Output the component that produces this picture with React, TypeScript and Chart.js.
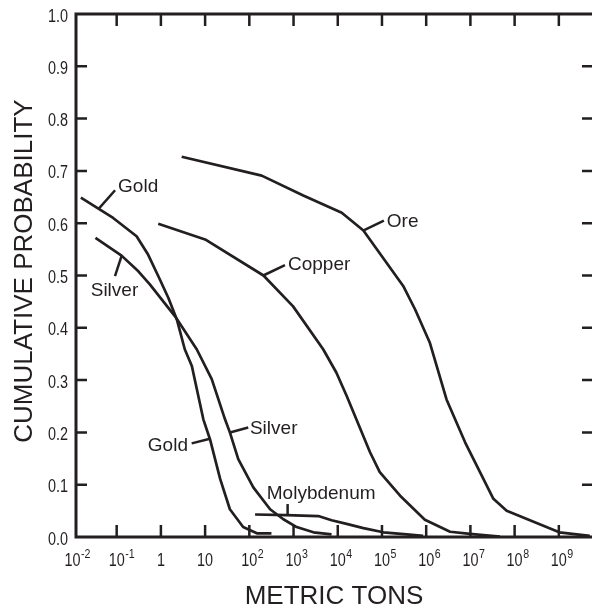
import React, { useEffect, useRef } from "react";
import { Chart, registerables } from "chart.js";

Chart.register(...registerables);

// ---- data (log10 of metric tons, cumulative probability) ----
const oreLogTons = [0.47, 2.28, 3.22, 4.09, 4.58, 5.48, 5.75, 6.08, 6.46, 6.88, 7.52, 7.82, 9.01, 9.7];
const oreProb = [0.727, 0.691, 0.653, 0.62, 0.586, 0.48, 0.435, 0.372, 0.263, 0.181, 0.073, 0.05, 0.009, 0.002];

const copperLogTons = [-0.06, 1.0, 2.32, 2.99, 3.67, 3.97, 4.2, 4.73, 4.95, 5.41, 5.97, 6.54, 6.99, 7.67];
const copperProb = [0.599, 0.569, 0.5, 0.441, 0.359, 0.314, 0.27, 0.162, 0.124, 0.079, 0.033, 0.01, 0.006, 0.001];

const goldLogTons = [-1.81, -1.08, -0.55, -0.29, -0.06, 0.17, 0.36, 0.54, 0.7, 0.96, 1.11, 1.34, 1.56, 1.86, 2.17, 2.5];
const goldProb = [0.649, 0.61, 0.575, 0.54, 0.499, 0.457, 0.416, 0.359, 0.327, 0.225, 0.187, 0.111, 0.053, 0.019, 0.007, 0.007];

const silverLogTons = [-1.48, -0.89, -0.51, -0.25, 0.32, 0.81, 1.15, 1.45, 1.56, 1.75, 2.09, 2.47, 2.77, 3.07, 3.45, 3.86];
const silverProb = [0.572, 0.538, 0.508, 0.483, 0.422, 0.359, 0.302, 0.225, 0.2, 0.149, 0.095, 0.053, 0.034, 0.019, 0.009, 0.005];

const molyLogTons = [2.13, 2.84, 3.56, 3.86, 4.2, 4.58, 5.03, 5.56, 5.93];
const molyProb = [0.043, 0.042, 0.04, 0.032, 0.025, 0.017, 0.009, 0.005, 0.002];

const X_TICK_EXPONENTS = [-2, -1, 0, 1, 2, 3, 4, 5, 6, 7, 8, 9];
const Y_TICKS = [0, 0.1, 0.2, 0.3, 0.4, 0.5, 0.6, 0.7, 0.8, 0.9, 1.0];
const X_MIN_EXP = -1.92;
const X_MAX_EXP = 9.75;

const X_TITLE = "METRIC TONS";
const Y_TITLE = "CUMULATIVE PROBABILITY";

// curve labels: leader from (l1,p1) to (l2,p2), text anchored at (lt,pt)
const LABELS = [
  { text: "Gold", l1: -1.414, p1: 0.627, l2: -1.036, p2: 0.663, lt: -0.968, pt: 0.672, align: "left" },
  { text: "Silver", l1: -0.887, p1: 0.538, l2: -1.038, p2: 0.4987, lt: -1.05, pt: 0.4733, align: "center" },
  { text: "Ore", l1: 4.575, p1: 0.586, l2: 5.043, p2: 0.605, lt: 5.11, pt: 0.605, align: "left" },
  { text: "Copper", l1: 2.315, p1: 0.5, l2: 2.806, p2: 0.5197, lt: 2.874, pt: 0.523, align: "left" },
  { text: "Gold", l1: 1.109, p1: 0.188, l2: 0.696, p2: 0.179, lt: 0.612, pt: 0.1756, align: "right" },
  { text: "Silver", l1: 1.562, p1: 0.1998, l2: 1.975, p2: 0.2094, lt: 2.014, pt: 0.208, align: "left" },
  { text: "Molybdenum", l1: 2.866, p1: 0.0429, l2: 2.866, p2: 0.063, lt: 2.395, pt: 0.0853, align: "left" },
];

const INK = "#231f20";
const FONT = '"Liberation Sans", Arial, Helvetica, sans-serif';

const toPoints = (logs: number[], probs: number[]) =>
  logs.map((l, i) => ({ x: Math.pow(10, l), y: probs[i] }));

const framePlugin = {
  id: "usgsFrame",
  afterDraw(chart: any) {
    const { ctx, chartArea, scales } = chart;
    const { left, right, top, bottom } = chartArea;
    const xs = scales.x;
    const ys = scales.y;
    ctx.save();
    ctx.strokeStyle = INK;
    ctx.fillStyle = INK;

    // frame
    ctx.lineWidth = 3;
    ctx.lineCap = "butt";
    ctx.beginPath();
    ctx.moveTo(left, top);
    ctx.lineTo(right + 2, top);
    ctx.moveTo(left, top - 1.5);
    ctx.lineTo(left, bottom + 1.5);
    ctx.moveTo(left, bottom);
    ctx.lineTo(right + 2, bottom);
    ctx.stroke();

    // ticks
    ctx.lineWidth = 2.5;
    ctx.beginPath();
    Y_TICKS.forEach((v) => {
      if (v <= 0 || v >= 1) return;
      const py = ys.getPixelForValue(v);
      ctx.moveTo(left, py);
      ctx.lineTo(left + 11, py);
      ctx.moveTo(right, py);
      ctx.lineTo(right - 10, py);
    });
    X_TICK_EXPONENTS.forEach((e) => {
      const px = xs.getPixelForValue(Math.pow(10, e));
      if (px <= left + 2) return;
      ctx.moveTo(px, bottom);
      ctx.lineTo(px, bottom - 12);
      ctx.moveTo(px, top);
      ctx.lineTo(px, top + 12);
    });
    ctx.stroke();

    const narrow = (text: string, px: number, py: number, size: number, align: string, sx: number) => {
      ctx.save();
      ctx.translate(px, py);
      ctx.scale(sx, 1);
      ctx.font = `${size}px ${FONT}`;
      ctx.textAlign = align;
      ctx.textBaseline = "alphabetic";
      ctx.fillText(text, 0, 0);
      const w = ctx.measureText(text).width * sx;
      ctx.restore();
      return w;
    };

    // y tick labels
    Y_TICKS.forEach((v) => {
      const py = ys.getPixelForValue(v);
      narrow(v.toFixed(1), left - 8, py + 7.5, 18, "right", 0.8);
    });

    // x tick labels with superscript exponents
    X_TICK_EXPONENTS.forEach((e) => {
      const px = xs.getPixelForValue(Math.pow(10, e));
      const base = e === 0 ? "1" : "10";
      ctx.save();
      ctx.font = `18.5px ${FONT}`;
      const w = ctx.measureText(base).width * 0.78;
      ctx.restore();
      narrow(base, px, bottom + 29, 18.5, "center", 0.78);
      if (e !== 0 && e !== 1) {
        narrow(String(e), px + w / 2 + 0.5, bottom + 20.5, 12.5, "left", 0.85);
      }
    });

    // axis titles
    ctx.font = `26px ${FONT}`;
    ctx.textAlign = "center";
    ctx.textBaseline = "alphabetic";
    ctx.fillText(X_TITLE, (left + right) / 2, 604);
    ctx.save();
    ctx.translate(31.5, 271);
    ctx.rotate(-Math.PI / 2);
    ctx.fillText(Y_TITLE, 0, 0);
    ctx.restore();

    // curve labels + leaders
    ctx.lineWidth = 2.5;
    ctx.lineCap = "butt";
    ctx.font = `19px ${FONT}`;
    ctx.textBaseline = "middle";
    LABELS.forEach((lb) => {
      const x1 = xs.getPixelForValue(Math.pow(10, lb.l1));
      const y1 = ys.getPixelForValue(lb.p1);
      const x2 = xs.getPixelForValue(Math.pow(10, lb.l2));
      const y2 = ys.getPixelForValue(lb.p2);
      ctx.beginPath();
      ctx.moveTo(x1, y1);
      ctx.lineTo(x2, y2);
      ctx.stroke();
      ctx.textAlign = lb.align;
      ctx.fillText(lb.text, xs.getPixelForValue(Math.pow(10, lb.lt)), ys.getPixelForValue(lb.pt) + 1);
    });
    ctx.restore();
  },
};

export default function App() {
  const ref = useRef<HTMLCanvasElement | null>(null);
  useEffect(() => {
    if (!ref.current) return;
    const mk = (label: string, logs: number[], probs: number[]) => ({
      label,
      data: toPoints(logs, probs),
      borderColor: INK,
      borderWidth: 2.7,
      pointRadius: 0,
      tension: 0,
      fill: false,
      borderCapStyle: "butt",
      borderJoinStyle: "round",
    });
    const chart = new Chart(ref.current, {
      type: "line",
      data: {
        datasets: [
          mk("Ore", oreLogTons, oreProb),
          mk("Copper", copperLogTons, copperProb),
          mk("Gold", goldLogTons, goldProb),
          mk("Silver", silverLogTons, silverProb),
          mk("Molybdenum", molyLogTons, molyProb),
        ] as any,
      },
      options: {
        responsive: false,
        animation: false,
        devicePixelRatio: 1,
        layout: { padding: { left: 76, top: 14, right: 0, bottom: 72 } },
        plugins: { legend: { display: false }, tooltip: { enabled: false } },
        scales: {
          x: { type: "logarithmic", min: Math.pow(10, X_MIN_EXP), max: Math.pow(10, X_MAX_EXP), display: false },
          y: { type: "linear", min: 0, max: 1, display: false },
        },
      } as any,
      plugins: [framePlugin as any],
    });
    return () => chart.destroy();
  }, []);
  return (
    <div style={{ position: "absolute", left: 0, top: 0, width: 592, height: 609, background: "#fff" }}>
      <canvas ref={ref} width={592} height={609} style={{ display: "block", width: 592, height: 609 }} />
    </div>
  );
}
